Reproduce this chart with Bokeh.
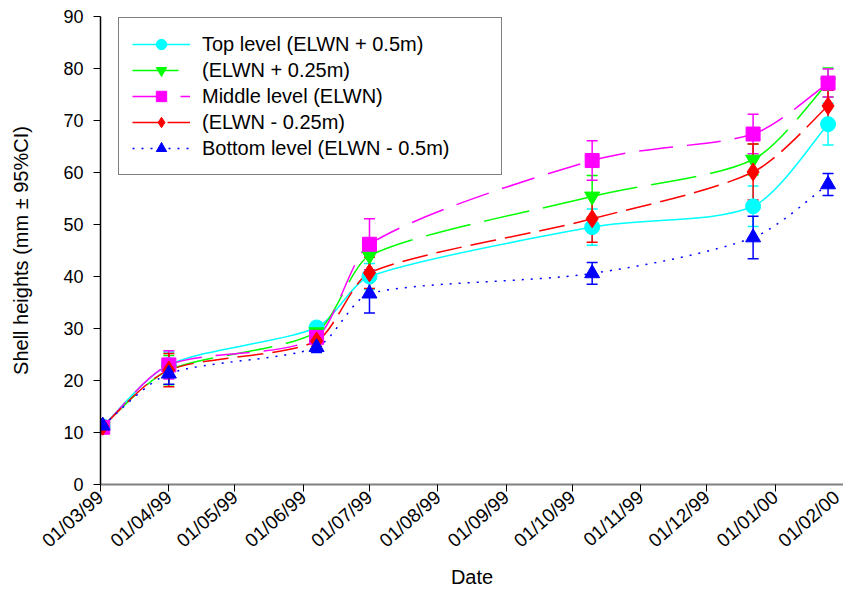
import pandas as pd
from bokeh.plotting import figure
from bokeh.models import (ColumnDataSource, Range1d, FixedTicker, DatetimeTickFormatter,
                          Whisker, TeeHead, Legend, LegendItem)
from bokeh.embed import file_html
from bokeh.resources import INLINE

# ---------------- data ----------------
dates = ["1999-03-02", "1999-04-01", "1999-06-07", "1999-07-01",
         "1999-10-10", "1999-12-22", "2000-01-25"]

tick_dates = ["1999-03-01", "1999-04-01", "1999-05-01", "1999-06-01", "1999-07-01",
              "1999-08-01", "1999-09-01", "1999-10-01", "1999-11-01", "1999-12-01",
              "2000-01-01", "2000-02-01"]
y_ticks = [0, 10, 20, 30, 40, 50, 60, 70, 80, 90]

names = ["Top level (ELWN + 0.5m)", "(ELWN + 0.25m)", "Middle level (ELWN)",
         "(ELWN - 0.25m)", "Bottom level (ELWN - 0.5m)"]

top = [11.2, 23.0, 30.2, 40.0, 49.5, 53.5, 69.3]
top_err = [0.8, 2.5, 1.0, 2.5, 3.5, 3.9, 4.0]

plus25 = [11.2, 22.0, 29.3, 44.0, 55.4, 62.5, 77.3]
plus25_err = [0.8, 2.8, 1.0, 3.0, 4.0, 3.0, 2.8]

middle = [11.0, 23.0, 28.3, 46.2, 62.3, 67.4, 77.2]
middle_err = [0.8, 2.7, 1.0, 4.9, 3.8, 3.8, 2.7]

minus25 = [11.2, 22.0, 27.6, 40.7, 51.1, 60.1, 72.8]
minus25_err = [0.8, 3.2, 1.0, 3.0, 4.5, 5.4, 3.0]

bottom = [11.3, 21.3, 26.4, 36.7, 40.6, 47.5, 57.7]
bottom_err = [0.8, 2.0, 1.0, 3.7, 2.1, 4.1, 2.1]

values = [top, plus25, middle, minus25, bottom]
errors = [top_err, plus25_err, middle_err, minus25_err, bottom_err]

# ---------------- styles ----------------
colors = ["#00FFFF", "#00FF00", "#FF00FF", "#FF0000", "#0000FF"]
markers = ["circle", "inverted_triangle", "square", "diamond", "triangle"]
msizes = [15, 15, 14, 18, 15]
dashes = ["solid", "46 14", "34 14", "26 9", "2 7"]

FONT = "Liberation Sans"


def ms(d):
    return pd.Timestamp(d).value / 1e6


xs = [ms(d) for d in dates]

p = figure(width=843, height=591, x_axis_type="datetime",
           x_range=Range1d(ms("1999-03-01"), ms("2000-02-01")),
           y_range=Range1d(0, 90),
           output_backend="svg", toolbar_location=None,
           min_border_left=100, min_border_right=0, min_border_top=16,
           min_border_bottom=105)
p.outline_line_color = None
p.grid.visible = False
p.background_fill_color = "white"
p.border_fill_color = "white"


def handle(i, k, vals):
    return (xs[k] - xs[i]) / 6.0, (vals[k] - vals[i]) / 6.0


for vals, errs, col, dash in zip(values, errors, colors, dashes):
    n = len(xs)
    x0, y0, x1, y1, cx0, cy0, cx1, cy1 = [], [], [], [], [], [], [], []
    for i in range(n - 1):
        seg = xs[i + 1] - xs[i]
        hx0, hy0 = handle(max(i - 1, 0), i + 1, vals)
        hx1, hy1 = handle(i, min(i + 2, n - 1), vals)
        lim = seg / 3.0
        if hx0 > lim:
            s = lim / hx0
            hx0, hy0 = hx0 * s, hy0 * s
        if hx1 > lim:
            s = lim / hx1
            hx1, hy1 = hx1 * s, hy1 * s
        x0.append(xs[i]); y0.append(vals[i])
        x1.append(xs[i + 1]); y1.append(vals[i + 1])
        cx0.append(xs[i] + hx0); cy0.append(vals[i] + hy0)
        cx1.append(xs[i + 1] - hx1); cy1.append(vals[i + 1] - hy1)
    bsrc = ColumnDataSource(dict(x0=x0, y0=y0, x1=x1, y1=y1,
                                 cx0=cx0, cy0=cy0, cx1=cx1, cy1=cy1))
    p.bezier(x0="x0", y0="y0", x1="x1", y1="y1", cx0="cx0", cy0="cy0",
             cx1="cx1", cy1="cy1", source=bsrc, line_color=col,
             line_width=1.5, line_dash=dash)

    esrc = ColumnDataSource(dict(x=xs, upper=[v + e for v, e in zip(vals, errs)],
                                 lower=[v - e for v, e in zip(vals, errs)]))
    w = Whisker(source=esrc, base="x", upper="upper", lower="lower",
                line_color=col, line_width=1.5,
                upper_head=TeeHead(size=11, line_color=col, line_width=1.5),
                lower_head=TeeHead(size=11, line_color=col, line_width=1.5))
    p.add_layout(w)

items = []
for vals, col, mk, sz, dash, name in zip(values, colors, markers, msizes, dashes, names):
    r = p.scatter(x=xs, y=vals, marker=mk, size=sz, fill_color=col, line_color=col)
    # single-point line: draws nothing in the plot, only provides the legend line
    dl = p.line(x=xs[:1], y=vals[:1], line_color=col, line_width=1.5, line_dash=dash)
    items.append(LegendItem(label=name, renderers=[dl, r]))

legend = Legend(items=items, location=(18, 309))
legend.label_text_font = FONT
legend.label_text_font_size = "20px"
legend.label_text_color = "black"
legend.glyph_width = 58
legend.glyph_height = 26
legend.label_height = 20
legend.label_standoff = 12
legend.label_width = 286
legend.spacing = 0
legend.padding = 13
legend.margin = 0
legend.border_line_color = "black"
legend.border_line_width = 1
legend.background_fill_alpha = 1.0
p.add_layout(legend, "center")

# ---------------- axes ----------------
xa = p.xaxis[0]
xa.ticker = FixedTicker(ticks=[ms(d) for d in tick_dates])
fmt = "%d/%m/%y"
xa.formatter = DatetimeTickFormatter(milliseconds=fmt, seconds=fmt, minsec=fmt, minutes=fmt,
                                     hourmin=fmt, hours=fmt, days=fmt, months=fmt, years=fmt,
                                     context=None)
xa.major_label_orientation = 0.72
xa.axis_line_color = "#808080"
xa.axis_line_width = 2
xa.major_tick_line_color = "black"
xa.major_tick_out = 7
xa.major_tick_in = 0
xa.minor_tick_line_color = None
xa.major_label_text_font = FONT
xa.major_label_text_font_size = "19px"
xa.major_label_text_color = "black"
xa.major_label_standoff = 3
xa.axis_label = "Date"
xa.axis_label_text_font = FONT
xa.axis_label_text_font_size = "20px"
xa.axis_label_text_font_style = "normal"
xa.axis_label_text_color = "black"
xa.axis_label_standoff = 4

ya = p.yaxis[0]
ya.ticker = FixedTicker(ticks=y_ticks)
ya.axis_line_color = "black"
ya.axis_line_width = 1.5
ya.major_tick_line_color = "black"
ya.major_tick_out = 7
ya.major_tick_in = 0
ya.minor_tick_line_color = None
ya.major_label_text_font = FONT
ya.major_label_text_font_size = "18px"
ya.major_label_text_color = "black"
ya.major_label_standoff = 10
ya.axis_label = "Shell heights (mm \u00b1 95%CI)"
ya.axis_label_text_font = FONT
ya.axis_label_text_font_size = "20px"
ya.axis_label_text_font_style = "normal"
ya.axis_label_text_color = "black"
ya.axis_label_standoff = 28

open("out.html", "w").write(file_html(p, INLINE))
